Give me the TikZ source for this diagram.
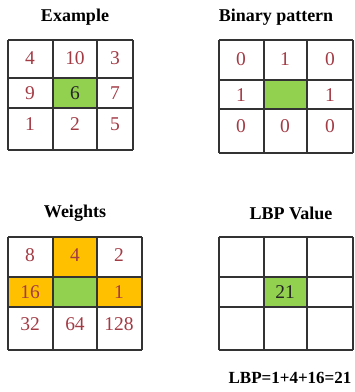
\documentclass[tikz,border=0pt]{standalone}
\usepackage{fontspec}
\setmainfont{Liberation Serif}
\definecolor{cellgreen}{HTML}{92D050}
\definecolor{cellorange}{HTML}{FFC000}
\definecolor{numred}{HTML}{A33B45}
\definecolor{gridgray}{HTML}{333333}
\begin{document}
\begin{tikzpicture}[x=1pt, y=1pt,
        title/.style={font=\fontsize{18}{18}\selectfont\bfseries},
        num/.style={text=numred, font=\fontsize{19.5}{19.5}\selectfont, inner sep=0pt},
        centre/.style={num, text=black!85},
        gridline/.style={draw=gridgray, line width=1.4pt}
    ]
        \useasboundingbox (0,0) rectangle (355,-392);

        % titles
        \node[title] (tex) at (75,-17) {Example};
        \node[title] (tbin) at (276,-17) {Binary pattern};
        \node[title] (twt) at (75,-213) {Weights};
        \node[title] (tlbp) at (291,-213) {LBP Value};

        % cell fills
        \fill[cellgreen] (53,-78) rectangle (97,-108);
        \fill[cellgreen] (264,-80) rectangle (307,-109);
        \fill[cellorange] (53,-237) rectangle (97,-277);
        \fill[cellorange] (8,-277) rectangle (53,-307);
        \fill[cellorange] (97,-277) rectangle (142,-307);
        \fill[cellgreen] (53,-277) rectangle (97,-307);
        \fill[cellgreen] (264,-277) rectangle (307,-307);

        % grids
        \foreach \x in {8,53,97,133} \draw[gridline] (\x,-40) -- (\x,-150);
        \foreach \y in {40,78,108,150} \draw[gridline] (8,-\y) -- (133,-\y);
        \foreach \x in {219,264,307,353} \draw[gridline] (\x,-40) -- (\x,-153);
        \foreach \y in {40,80,109,153} \draw[gridline] (219,-\y) -- (353,-\y);
        \foreach \x in {8,53,97,142} \draw[gridline] (\x,-237) -- (\x,-350);
        \foreach \y in {237,277,307,350} \draw[gridline] (8,-\y) -- (142,-\y);
        \foreach \x in {219,264,307,353} \draw[gridline] (\x,-237) -- (\x,-350);
        \foreach \y in {237,277,307,350} \draw[gridline] (219,-\y) -- (353,-\y);

        % example values
        \node[num] (ex11) at (30,-58) {4};
        \node[num] (ex12) at (75,-58) {10};
        \node[num] (ex13) at (115,-58) {3};
        \node[num] (ex21) at (30,-93) {9};
        \node[centre] (ex22) at (75,-93) {6};
        \node[num] (ex23) at (115,-93) {7};
        \node[num] (ex31) at (30,-124) {1};
        \node[num] (ex32) at (75,-124) {2};
        \node[num] (ex33) at (115,-124) {5};

        % binary pattern
        \node[num] (bin11) at (241,-59) {0};
        \node[num] (bin12) at (285,-59) {1};
        \node[num] (bin13) at (330,-59) {0};
        \node[num] (bin21) at (241,-95) {1};
        \node[num] (bin23) at (330,-95) {1};
        \node[num] (bin31) at (241,-126) {0};
        \node[num] (bin32) at (285,-126) {0};
        \node[num] (bin33) at (330,-126) {0};

        % weights
        \node[num] (wt11) at (30,-255) {8};
        \node[num] (wt12) at (75,-255) {4};
        \node[num] (wt13) at (119,-255) {2};
        \node[num] (wt21) at (30,-292) {16};
        \node[num] (wt23) at (119,-292) {1};
        \node[num] (wt31) at (30,-324) {32};
        \node[num] (wt32) at (75,-324) {64};
        \node[num] (wt33) at (119,-324) {128};

        % lbp value
        \node[centre] (lbp22) at (285,-292) {21};
        \node[title, font=\fontsize{17}{17}\selectfont\bfseries] (sum) at (290,-378) {LBP=1+4+16=21};
    \end{tikzpicture}
\end{document}
